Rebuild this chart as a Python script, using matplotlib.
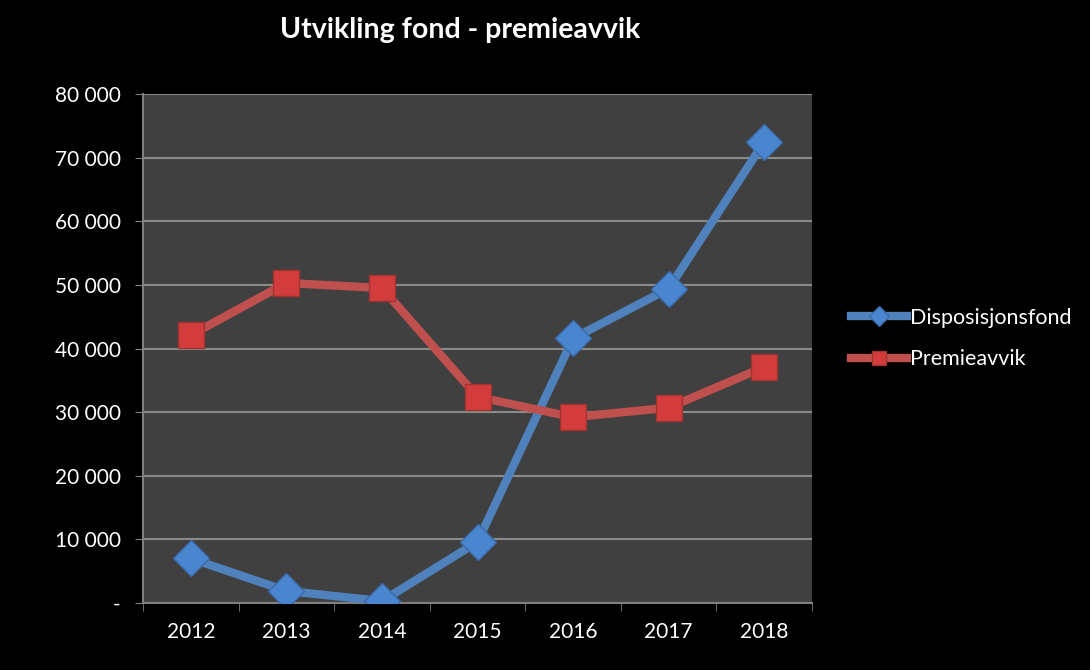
import matplotlib.pyplot as plt

years = ["2012", "2013", "2014", "2015", "2016", "2017", "2018"]
disposisjonsfond = [7000, 1900, 300, 9600, 41600, 49400, 72500]
premieavvik = [42100, 50300, 49500, 32400, 29200, 30700, 37100]
y_ticks = [0, 10000, 20000, 30000, 40000, 50000, 60000, 70000, 80000]
y_labels = ["-", "10 000", "20 000", "30 000", "40 000", "50 000", "60 000", "70 000", "80 000"]

plt.rcParams['font.family'] = ['Lato', 'DejaVu Sans']

fig = plt.figure(figsize=(10.9, 6.7), dpi=100, facecolor='black')
ax = fig.add_axes([0.1312, 0.1, 0.6138, 0.7597])
ax.set_facecolor('#404040')

x = range(len(years))
ax.plot(x, disposisjonsfond, color='#4F81BD', lw=6, marker='D', markersize=18,
        markerfacecolor='#4A86CF', markeredgecolor='#3A6BA8', markeredgewidth=1,
        label='Disposisjonsfond', zorder=3)
ax.plot(x, premieavvik, color='#C0504D', lw=6, marker='s', markersize=19,
        markerfacecolor='#D23C3C', markeredgecolor='#9E3330', markeredgewidth=1,
        label='Premieavvik', zorder=3)

ax.set_xlim(-0.5, len(years) - 0.5)
ax.set_ylim(0, 80000)
ax.set_yticks(y_ticks)
ax.set_yticklabels(y_labels)
ax.set_xticks(list(x))
ax.set_xticklabels(years)
ax.set_xticks([i - 0.5 for i in range(len(years) + 1)], minor=True)
ax.tick_params(axis='x', which='major', length=0, pad=14, colors='white', labelsize=15)
ax.tick_params(axis='x', which='minor', length=6, color='#808080', direction='out')
ax.tick_params(axis='y', length=6, color='#808080', colors='white', labelsize=15, pad=10)
for lbl in ax.get_yticklabels():
    lbl.set_color('white')
ax.yaxis.grid(True, color='#8a8a8a', lw=1.5)
ax.set_axisbelow(True)
for side in ['top', 'right']:
    ax.spines[side].set_visible(False)
for side in ['left', 'bottom']:
    ax.spines[side].set_color('#808080')
    ax.spines[side].set_linewidth(1.5)

fig.text(0.422, 0.955, "Utvikling fond - premieavvik", color='white', fontsize=20.5,
         fontweight='bold', ha='center', va='center')

leg = ax.legend(loc='center left', bbox_to_anchor=(1.03, 0.52), frameon=False,
                fontsize=15.5, labelcolor='white', handlelength=2.6, handletextpad=0.1,
                labelspacing=1.0, markerscale=0.55)

fig.savefig('out.png', dpi=100, facecolor='black')
